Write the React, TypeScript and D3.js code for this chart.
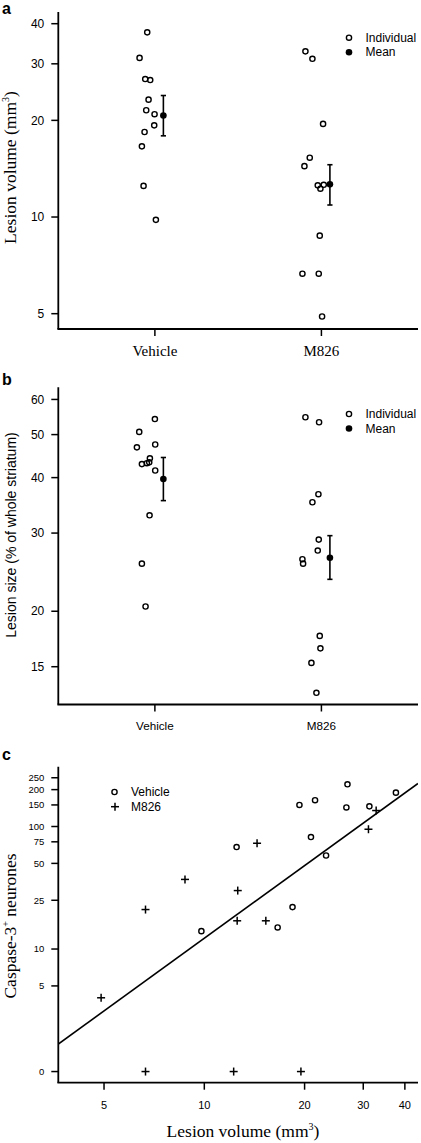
import React from "react";
import * as d3 from "d3";

// ---------- DATA ----------
const groups = ["Vehicle", "M826"];

// Panel a: lesion volume (mm3), with horizontal jitter (in group units)
const vehicleVolume = [37.6, 31.3, 26.9, 26.7, 23.2, 21.5, 20.9, 19.3, 18.4, 16.6, 12.5, 9.8];
const vehicleVolumeJitter = [-0.046, -0.092, -0.058, -0.028, -0.038, -0.052, -0.002, -0.004, -0.062, -0.078, -0.068, 0.006];
const m826Volume = [32.8, 31.1, 19.5, 15.3, 14.4, 12.55, 12.6, 12.25, 8.75, 6.66, 6.66, 4.9];
const m826VolumeJitter = [-0.096, -0.054, 0.01, -0.07, -0.102, -0.022, 0.014, -0.006, -0.01, -0.114, -0.016, 0.004];
const volumeMean = [20.7, 12.64];
const volumeLow = [17.9, 10.9];
const volumeHigh = [23.9, 14.55];
const volumeTicks = [5, 10, 20, 30, 40];

// Panel b: lesion size (% of whole striatum)
const vehicleSize = [54.2, 50.7, 47.5, 46.8, 44.2, 42.9, 43.1, 43.3, 41.5, 32.9, 25.6, 20.5];
const vehicleSizeJitter = [0.0, -0.094, 0.002, -0.108, -0.03, -0.078, -0.048, -0.034, 0.002, -0.032, -0.078, -0.056];
const m826Size = [54.7, 53.3, 36.7, 35.2, 29.0, 27.4, 26.2, 25.6, 17.6, 16.5, 15.3, 13.1];
const m826SizeJitter = [-0.096, -0.014, -0.018, -0.054, -0.016, -0.022, -0.114, -0.110, -0.010, -0.006, -0.060, -0.030];
const sizeMean = [39.7, 26.4];
const sizeLow = [35.5, 23.6];
const sizeHigh = [44.4, 29.6];
const sizeTicks = [15, 20, 30, 40, 50, 60];

// Panel c: caspase-3+ neurones vs lesion volume (same animals as panel a)
const vehicleCaspase = [189, 146, 221, 143, 58, 164, 82, 150, 22, 15, 68, 14];
const m826Caspase = [135, 95, 0, 17, 73, 17, 30, 0, 37, 21, 0, 4];
const zeroPlotValue = 1; // zero counts are drawn at 1 on the log axis, labelled "0"
const caspaseTicks = [0, 5, 10, 25, 50, 75, 100, 150, 200, 250];
const lesionTicksC = [5, 10, 20, 30, 40];
const regressionIntercept = -0.882; // log10(y) = a + b*log10(x)
const regressionSlope = 1.97;

// ---------- STYLE ----------
const SANS = "'Liberation Sans', Arial, Helvetica, sans-serif";
const SERIF = "'Liberation Serif', 'Times New Roman', serif";
const AX = 1.8;
const TICK = 7;

const W = 421;
const H = 1143;
const left = 58.3;
const right = 418;

function OpenCircle({ x, y }: { x: number; y: number }) {
  return <circle cx={x} cy={y} r={2.6} fill="none" stroke="#000" strokeWidth={1.4} />;
}

function Plus({ x, y }: { x: number; y: number }) {
  const s = 4;
  return (
    <g stroke="#000" strokeWidth={1.5}>
      <line x1={x - s} x2={x + s} y1={y} y2={y} />
      <line x1={x} x2={x} y1={y - s} y2={y + s} />
    </g>
  );
}

type StripProps = {
  top: number;
  bottom: number;
  yDomain: [number, number];
  ticks: number[];
  vals: number[][];
  jit: number[][];
  mean: number[];
  low: number[];
  high: number[];
  xLabelFont: string;
  xLabelSize: number;
  xLabelBaseline: number;
  yLabel: React.ReactNode;
  yLabelFont: string;
  yLabelSize: number;
  yLabelCenter: number;
  panel: string;
  panelBaseline: number;
  legendY: number;
};

function StripPanel(p: StripProps) {
  const x = d3.scaleLinear().domain([0.42, 2.58]).range([left, right]);
  const y = d3.scaleLog().domain(p.yDomain).range([p.bottom, p.top]);
  return (
    <g>
      <text x={2} y={p.panelBaseline} fontFamily={SANS} fontWeight="bold" fontSize={16}>
        {p.panel}
      </text>
      {/* axes */}
      <line x1={left} x2={left} y1={p.top} y2={p.bottom} stroke="#000" strokeWidth={AX} />
      <line x1={left - AX / 2} x2={right} y1={p.bottom} y2={p.bottom} stroke="#000" strokeWidth={AX} />
      {p.ticks.map((t) => (
        <g key={t}>
          <line x1={left - TICK} x2={left} y1={y(t)} y2={y(t)} stroke="#000" strokeWidth={1.5} />
          <text x={left - 14} y={y(t)} dy="0.35em" textAnchor="end" fontFamily={SANS} fontSize={12}>
            {t}
          </text>
        </g>
      ))}
      {groups.map((g, i) => (
        <g key={g}>
          <line x1={x(i + 1)} x2={x(i + 1)} y1={p.bottom} y2={p.bottom + TICK} stroke="#000" strokeWidth={1.5} />
          <text
            x={x(i + 1)}
            y={p.xLabelBaseline}
            textAnchor="middle"
            fontFamily={p.xLabelFont}
            fontSize={p.xLabelSize}
          >
            {g}
          </text>
        </g>
      ))}
      <text
        transform={`translate(${15.5},${p.yLabelCenter}) rotate(-90)`}
        textAnchor="middle"
        fontFamily={p.yLabelFont}
        fontSize={p.yLabelSize}
      >
        {p.yLabel}
      </text>
      {/* points */}
      {p.vals.map((arr, gi) =>
        arr.map((v, j) => <OpenCircle key={`${gi}-${j}`} x={x(gi + 1 + p.jit[gi][j])} y={y(v)} />)
      )}
      {/* means with error bars */}
      {p.mean.map((m, gi) => {
        const cx = x(gi + 1.051);
        return (
          <g key={gi} stroke="#000" strokeWidth={1.6}>
            <line x1={cx} x2={cx} y1={y(p.low[gi])} y2={y(p.high[gi])} />
            <line x1={cx - 2.6} x2={cx + 2.6} y1={y(p.low[gi])} y2={y(p.low[gi])} />
            <line x1={cx - 2.6} x2={cx + 2.6} y1={y(p.high[gi])} y2={y(p.high[gi])} />
            <circle cx={cx} cy={y(m)} r={3.3} fill="#000" stroke="none" />
          </g>
        );
      })}
      {/* legend */}
      <OpenCircle x={349} y={p.legendY} />
      <text x={365.5} y={p.legendY} dy="0.35em" fontFamily={SANS} fontSize={12}>
        Individual
      </text>
      <circle cx={349} cy={p.legendY + 14.5} r={3.3} fill="#000" />
      <text x={365.5} y={p.legendY + 14.5} dy="0.35em" fontFamily={SANS} fontSize={12}>
        Mean
      </text>
    </g>
  );
}

function PanelC() {
  const top = 766.7;
  const bottom = 1082.7;
  const x = d3.scaleLog().domain([3.645, 43.8]).range([left, right]);
  const y = d3.scaleLog().domain([0.811, 307.7]).range([bottom, top]);
  const yv = (v: number) => y(v === 0 ? zeroPlotValue : v);
  const [x0, x1] = x.domain();
  const line = d3
    .line<number>()
    .x((d) => x(d))
    .y((d) => y(Math.pow(10, regressionIntercept + regressionSlope * Math.log10(d))));
  return (
    <g>
      <defs>
        <clipPath id="clipc">
          <rect x={left} y={top} width={right - left} height={bottom - top} />
        </clipPath>
      </defs>
      <text x={2} y={760} fontFamily={SANS} fontWeight="bold" fontSize={16}>
        c
      </text>
      <line x1={left} x2={left} y1={top} y2={bottom} stroke="#000" strokeWidth={AX} />
      <line x1={left - AX / 2} x2={right} y1={bottom} y2={bottom} stroke="#000" strokeWidth={AX} />
      {caspaseTicks.map((t) => (
        <g key={t}>
          <line x1={left - TICK} x2={left} y1={yv(t)} y2={yv(t)} stroke="#000" strokeWidth={1.5} />
          <text x={left - 14} y={yv(t)} dy="0.35em" textAnchor="end" fontFamily={SANS} fontSize={9.5}>
            {t}
          </text>
        </g>
      ))}
      {lesionTicksC.map((t) => (
        <g key={t}>
          <line x1={x(t)} x2={x(t)} y1={bottom} y2={bottom + TICK} stroke="#000" strokeWidth={1.5} />
          <text x={x(t)} y={1109} textAnchor="middle" fontFamily={SANS} fontSize={11}>
            {t}
          </text>
        </g>
      ))}
      <text x={243} y={1137} textAnchor="middle" fontFamily={SERIF} fontSize={17.5}>
        Lesion volume (mm<tspan fontSize={10} dy={-7}>3</tspan>
        <tspan dy={7}>)</tspan>
      </text>
      <text
        transform={`translate(${15.5},${926}) rotate(-90)`}
        textAnchor="middle"
        fontFamily={SERIF}
        fontSize={17.5}
      >
        Caspase-3<tspan fontSize={10} dy={-7}>+</tspan>
        <tspan dy={7}> neurones</tspan>
      </text>
      <path
        d={line([x0, x1]) || ""}
        fill="none"
        stroke="#000"
        strokeWidth={1.6}
        clipPath="url(#clipc)"
      />
      {vehicleVolume.map((v, i) => (
        <OpenCircle key={`v${i}`} x={x(v)} y={yv(vehicleCaspase[i])} />
      ))}
      {m826Volume.map((v, i) => (
        <Plus key={`m${i}`} x={x(v)} y={yv(m826Caspase[i])} />
      ))}
      {/* legend */}
      <OpenCircle x={114.5} y={792} />
      <text x={131} y={792} dy="0.35em" fontFamily={SANS} fontSize={12}>
        Vehicle
      </text>
      <Plus x={115} y={806.7} />
      <text x={131} y={806.7} dy="0.35em" fontFamily={SANS} fontSize={12}>
        M826
      </text>
    </g>
  );
}

export default function App() {
  return (
    <svg
      width={W}
      height={H}
      viewBox={`0 0 ${W} ${H}`}
      style={{ position: "absolute", left: 0, top: 0, display: "block", background: "#fff" }}
    >
      <rect width={W} height={H} fill="#fff" />
      <StripPanel
        top={12}
        bottom={329}
        yDomain={[4.48, 43.5]}
        ticks={volumeTicks}
        vals={[vehicleVolume, m826Volume]}
        jit={[vehicleVolumeJitter, m826VolumeJitter]}
        mean={volumeMean}
        low={volumeLow}
        high={volumeHigh}
        xLabelFont={SERIF}
        xLabelSize={15}
        xLabelBaseline={356}
        yLabel={
          <>
            Lesion volume (mm<tspan fontSize={10} dy={-7}>3</tspan>
            <tspan dy={7}>)</tspan>
          </>
        }
        yLabelFont={SERIF}
        yLabelSize={17.5}
        yLabelCenter={167.5}
        panel="a"
        panelBaseline={13.5}
        legendY={37.7}
      />
      <StripPanel
        top={387.3}
        bottom={704.5}
        yDomain={[12.33, 63.9]}
        ticks={sizeTicks}
        vals={[vehicleSize, m826Size]}
        jit={[vehicleSizeJitter, m826SizeJitter]}
        mean={sizeMean}
        low={sizeLow}
        high={sizeHigh}
        xLabelFont={SANS}
        xLabelSize={11.7}
        xLabelBaseline={730}
        yLabel="Lesion size (% of whole striatum)"
        yLabelFont={SANS}
        yLabelSize={14}
        yLabelCenter={535}
        panel="b"
        panelBaseline={385}
        legendY={414}
      />
      <PanelC />
    </svg>
  );
}
